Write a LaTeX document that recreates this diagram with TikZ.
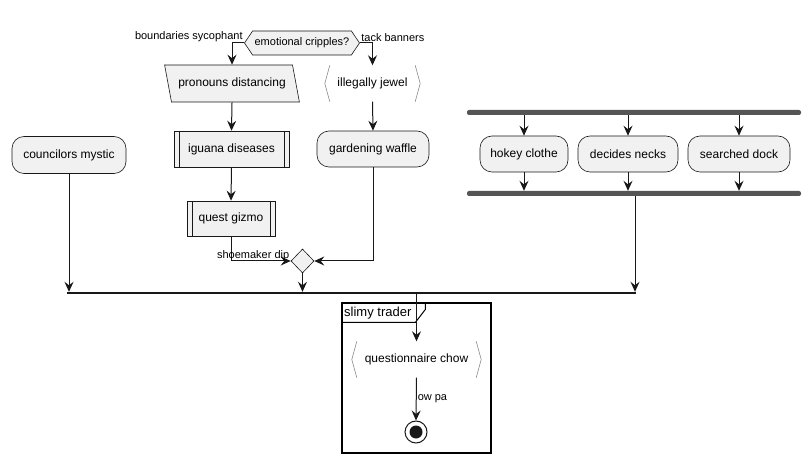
\documentclass[tikz,border=0pt]{standalone}
\usepackage{fontspec}
\setmainfont{Liberation Sans}
\usepackage{tikz}
\usepackage{xcolor}
\usetikzlibrary{shapes.geometric, shapes.symbols, arrows.meta}
\definecolor{boxfill}{HTML}{F1F1F1}
\definecolor{linecol}{HTML}{181818}
\definecolor{barcol}{HTML}{555555}
\definecolor{brackcol}{HTML}{8A8A8A}
\newcommand{\nodefont}{\fontsize{12}{14}\selectfont}
\newcommand{\labelfont}{\fontsize{11}{13}\selectfont}
\tikzstyle{action} = [rectangle, rounded corners=12pt, minimum height=36pt, text centered, draw=linecol, line width=0.6pt, fill=boxfill, font=\nodefont]
\tikzstyle{subproc} = [rectangle, minimum height=36pt, text centered, draw=linecol, line width=0.6pt, fill=boxfill, font=\nodefont, path picture={\draw[linecol, line width=0.6pt] ([xshift=5pt]path picture bounding box.north west) -- ([xshift=5pt]path picture bounding box.south west) ([xshift=-5pt]path picture bounding box.north east) -- ([xshift=-5pt]path picture bounding box.south east);}]
\tikzstyle{io} = [trapezium, trapezium left angle=110, trapezium right angle=70, trapezium stretches=true, minimum height=37pt, text centered, draw=linecol, line width=0.6pt, fill=boxfill, font=\nodefont]
\tikzstyle{brackets} = [rectangle, minimum height=36pt, text centered, font=\nodefont, append after command={\pgfextra{\draw[brackcol, line width=0.6pt] ([xshift=5pt]\tikzlastnode.north west) -- (\tikzlastnode.west) -- ([xshift=5pt]\tikzlastnode.south west) ([xshift=-5pt]\tikzlastnode.north east) -- (\tikzlastnode.east) -- ([xshift=-5pt]\tikzlastnode.south east);}}]
\tikzstyle{decision} = [signal, signal to=west and east, signal pointer angle=112, minimum height=24pt, inner sep=1pt, text centered, draw=linecol, line width=0.6pt, fill=boxfill, font=\labelfont]
\tikzstyle{merge} = [diamond, minimum width=23pt, minimum height=24pt, inner sep=0pt, draw=linecol, line width=0.6pt, fill=boxfill]
\tikzstyle{bar} = [rectangle, rounded corners=2pt, minimum height=5pt, inner sep=0pt, fill=barcol]
\tikzstyle{hbar} = [rectangle, minimum height=2pt, inner sep=0pt, fill=linecol]
\tikzstyle{final} = [circle, minimum size=22pt, inner sep=0pt, draw=linecol, line width=1pt, fill=white, path picture={\fill[linecol] (path picture bounding box.center) circle (6.5pt);}]
\tikzstyle{groupframe} = [rectangle, draw=black, line width=1.2pt, inner sep=0pt]
\tikzstyle{edgetext} = [font=\labelfont, inner sep=1pt]
\tikzstyle{arrow} = [line width=1pt, draw=linecol, -{Stealth[length=10pt, width=9pt, inset=3.5pt]}]

\begin{document}
\begin{tikzpicture}[x=1pt, y=-1pt]
    \useasboundingbox (0,0) rectangle (811,462);
    \node (cripples) [decision, minimum width=115pt] at (302,43) {emotional cripples?};
    \node (pronouns) [io, minimum width=135pt] at (232,83.5) {pronouns distancing};
    \node (jewel) [brackets, minimum width=95pt] at (372.5,83.5) {illegally jewel};
    \node (iguana) [subproc, minimum width=115pt] at (231.5,149) {iguana diseases};
    \node (waffle) [action, minimum width=112pt] at (373,149) {gardening waffle};
    \node (quest) [subproc, minimum width=88pt, minimum height=35pt] at (231,218.5) {quest gizmo};
    \node (dip) [merge] at (302.5,261) {};
    \node (councilors) [action, minimum width=114pt, minimum height=37pt] at (69,155) {councilors mystic};
    \node (forkbar) [bar, minimum width=334pt] at (634,112.5) {};
    \node (hokey) [action, minimum width=88pt] at (524,154) {hokey clothe};
    \node (necks) [action, minimum width=100pt] at (628,154) {decides necks};
    \node (dock) [action, minimum width=102pt] at (739,154) {searched dock};
    \node (joinbar) [bar, minimum width=334pt] at (634,193.5) {};
    \node (mergebar) [hbar, minimum width=569pt] at (351.5,293) {};
    \node (trader) [groupframe, minimum width=149pt, minimum height=150pt] at (416.5,378) {};
    \draw [line width=1pt] ([xshift=84pt]trader.north west) -- ++(0,7) -- ++(-10,13) -- ([yshift=-20pt]trader.north west);
    \node (tabtext) [anchor=west, font=\fontsize{13}{15}\selectfont, inner sep=1pt] at (343,313) {slimy trader};
    \node (chow) [brackets, minimum width=129pt] at (416.5,359.5) {questionnaire chow};
    \node (stop) [final] at (416,432) {};

    \draw [arrow] (cripples.west) -| node[edgetext, anchor=south east, pos=0] {boundaries sycophant} (pronouns.north);
    \draw [arrow] (cripples.east) -| node[edgetext, anchor=south west, pos=0] {tack banners} (jewel.north);
    \draw [arrow] (pronouns.south) -- (iguana.north);
    \draw [arrow] (iguana.south) -- (quest.north);
    \draw [arrow] (jewel.south) -- (waffle.north);
    \draw [arrow] (quest.south) |- node[edgetext, anchor=base east, pos=1, yshift=2pt] {shoemaker dip} (dip.west);
    \draw [arrow] (waffle.south) |- (dip.east);
    \draw [arrow] (hokey.north |- forkbar.south) -- (hokey.north);
    \draw [arrow] (necks.north |- forkbar.south) -- (necks.north);
    \draw [arrow] (dock.north |- forkbar.south) -- (dock.north);
    \draw [arrow] (hokey.south) -- (hokey.south |- joinbar.north);
    \draw [arrow] (necks.south) -- (necks.south |- joinbar.north);
    \draw [arrow] (dock.south) -- (dock.south |- joinbar.north);
    \draw [arrow] (councilors.south) -- (councilors.south |- mergebar.north);
    \draw [arrow] (dip.south) -- (dip.south |- mergebar.north);
    \draw [arrow] ([xshift=1pt]joinbar.south) -- ([xshift=1pt]joinbar.south |- mergebar.north);
    \draw [arrow] (mergebar.south -| chow.north) -- (chow.north);
    \draw [arrow] (chow.south) -- node[edgetext, right] {ow pa} (stop.north);
\end{tikzpicture}
\end{document}
